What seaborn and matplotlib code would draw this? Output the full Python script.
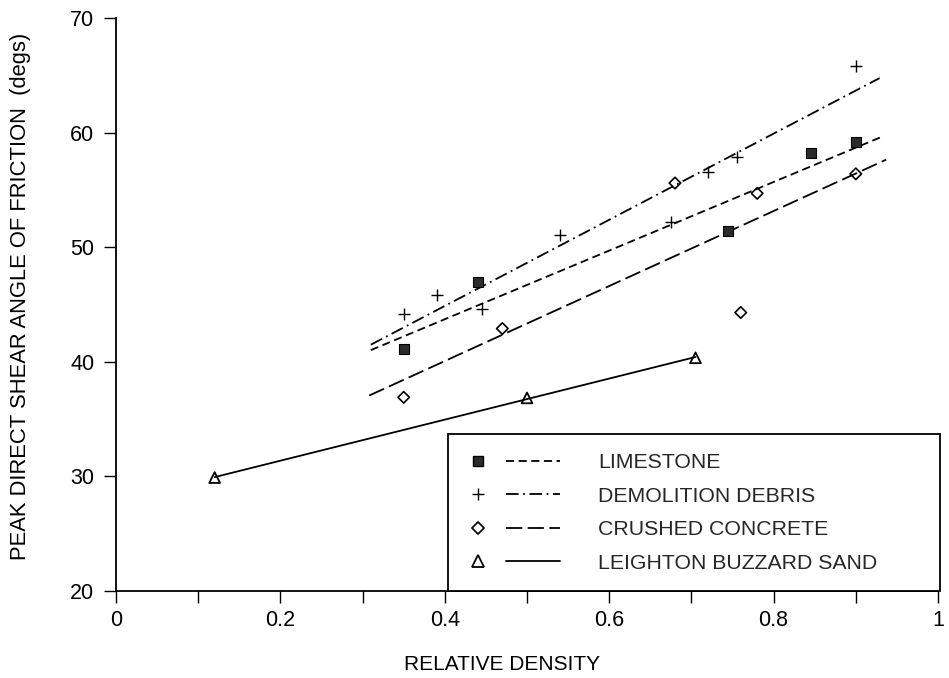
import numpy as np
import pandas as pd
import matplotlib
matplotlib.use("Agg")
import matplotlib.pyplot as plt
import seaborn as sns
from matplotlib.lines import Line2D
from matplotlib.legend_handler import HandlerTuple
from matplotlib.patches import Rectangle
from matplotlib.ticker import MultipleLocator, FixedLocator, FixedFormatter

# ---------------- data ----------------
series_names = ["LIMESTONE", "DEMOLITION DEBRIS", "CRUSHED CONCRETE", "LEIGHTON BUZZARD SAND"]

limestone_x = [0.35, 0.44, 0.745, 0.845, 0.90]
limestone_y = [41.1, 47.0, 51.4, 58.2, 59.2]

debris_x = [0.35, 0.39, 0.445, 0.54, 0.675, 0.72, 0.755, 0.90]
debris_y = [44.2, 45.8, 44.6, 51.1, 52.2, 56.6, 57.9, 65.8]

concrete_x = [0.35, 0.47, 0.68, 0.76, 0.78, 0.90]
concrete_y = [36.9, 42.9, 55.6, 44.3, 54.7, 56.4]

sand_x = [0.12, 0.50, 0.705]
sand_y = [29.9, 36.85, 40.35]

# x-range over which each least-squares trend line is drawn
fit_lo = [0.31, 0.31, 0.308, 0.12]
fit_hi = [0.934, 0.929, 0.937, 0.705]

x_ticks = [0, 0.2, 0.4, 0.6, 0.8, 1]
x_tick_labels = ["0", "0.2", "0.4", "0.6", "0.8", "1"]
y_ticks = [20, 30, 40, 50, 60, 70]

# ---------------- style ----------------
sns.set_theme(style="ticks")
plt.rcParams["font.family"] = ["Liberation Sans", "DejaVu Sans"]

fig = plt.figure(figsize=(9.49, 6.78), dpi=100)
ax = fig.add_axes([116 / 949, 1 - 591 / 678, 822 / 949, 573 / 678])

xs = [limestone_x, debris_x, concrete_x, sand_x]
ys = [limestone_y, debris_y, concrete_y, sand_y]
line_styles = [(0, (4.5, 2.5)), (0, (7, 2.5, 1, 2.5)), (0, (9, 3)), "-"]

marker_kws = [
    dict(marker="s", s=55, color="#2b2b2b", edgecolor="black", linewidth=0.8),
    dict(marker="+", s=70, color="black", linewidth=1.0),
    dict(marker="D", s=34, facecolor="none", edgecolor="black", linewidth=1.2),
    dict(marker="^", s=60, facecolor="none", edgecolor="black", linewidth=1.3),
]

for i, name in enumerate(series_names):
    df = pd.DataFrame({"x": xs[i], "y": ys[i]})
    coef = np.polyfit(df["x"], df["y"], 1)
    fx = np.array([fit_lo[i], fit_hi[i]])
    fit_df = pd.DataFrame({"x": fx, "y": np.polyval(coef, fx)})
    sns.lineplot(data=fit_df, x="x", y="y", ax=ax, color="black", linewidth=1.3,
                 linestyle=line_styles[i], legend=False)
    sns.scatterplot(data=df, x="x", y="y", ax=ax, legend=False, zorder=3, **marker_kws[i])

# ---------------- axes ----------------
ax.set_xlim(0, 1)
ax.set_ylim(20, 70)
ax.xaxis.set_major_locator(FixedLocator(x_ticks))
ax.xaxis.set_major_formatter(FixedFormatter(x_tick_labels))
ax.xaxis.set_minor_locator(MultipleLocator(0.1))
ax.yaxis.set_major_locator(FixedLocator(y_ticks))
for side in ["top", "right"]:
    ax.spines[side].set_visible(False)
for side in ["left", "bottom"]:
    ax.spines[side].set_linewidth(1.3)
    ax.spines[side].set_color("black")
ax.tick_params(axis="both", which="both", direction="out", length=8.5, width=1.0,
               colors="black", labelsize=15.5)
ax.tick_params(axis="x", which="both", pad=5)
ax.tick_params(axis="y", which="both", pad=7)
ax.tick_params(axis="y", which="minor", length=0)

ax.set_xlabel("RELATIVE DENSITY", fontsize=15, color="black")
ax.set_ylabel("PEAK DIRECT SHEAR ANGLE OF FRICTION  (degs)", fontsize=15.8, color="black")
ax.xaxis.set_label_coords(0.47, -0.112)
ax.yaxis.set_label_coords(-0.103, 0.515)

# ---------------- legend ----------------
box = Rectangle((0.404, 0.0), 0.598, 0.274, transform=ax.transAxes, fill=True,
                facecolor="white", edgecolor="black", linewidth=1.3, clip_on=False, zorder=4)
ax.add_patch(box)

handles = []
mk_leg = [
    dict(marker="s", markersize=7, markerfacecolor="#2b2b2b", markeredgecolor="black"),
    dict(marker="+", markersize=9, markeredgecolor="black", markeredgewidth=1.0),
    dict(marker="D", markersize=6, markerfacecolor="none", markeredgecolor="black", markeredgewidth=1.2),
    dict(marker="^", markersize=8, markerfacecolor="none", markeredgecolor="black", markeredgewidth=1.3),
]
for i in range(4):
    m = Line2D([], [], linestyle="none", **mk_leg[i])
    ln = Line2D([], [], color="black", linewidth=1.3, linestyle=line_styles[i])
    handles.append((m, ln))

leg = ax.legend(handles, series_names, handler_map={tuple: HandlerTuple(ndivide=None, pad=0.0)},
                loc="center left", bbox_to_anchor=(0.408, 0.136), frameon=False,
                fontsize=15.3, handlelength=5.1, handletextpad=1.8, labelspacing=0.68,
                borderpad=0, borderaxespad=0, numpoints=1)
leg.set_zorder(5)

fig.savefig("out.png", dpi=100, facecolor="white")
